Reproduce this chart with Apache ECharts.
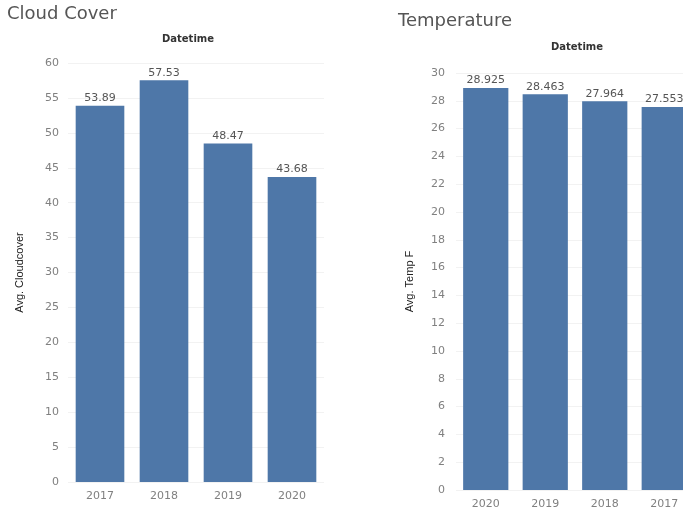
<!DOCTYPE html>
<html>
<head>
<meta charset="utf-8">
<style>
  html, body { margin: 0; padding: 0; background: #fff; overflow: hidden; }
  /* the right-hand panel runs past the window edge, so the canvas is wider than the view */
  #chart { width: 710px; height: 512px; }
</style>
<script src="https://cdn.jsdelivr.net/npm/echarts@6/dist/echarts.min.js"></script>
</head>
<body>
<div id="chart"></div>
<script>
// Average cloud cover by year
const cloudYears = ['2017', '2018', '2019', '2020'];
const cloudValues = [53.89, 57.53, 48.47, 43.68];
const cloudTicks = { min: 0, max: 60, interval: 5 };

// Average temperature by year (sorted descending)
const tempYears = ['2020', '2019', '2018', '2017'];
const tempValues = [28.925, 28.463, 27.964, 27.553];
const tempTicks = { min: 0, max: 30, interval: 2 };

const barColor = '#4e77a8';
const tickFont = 'DejaVu Sans, sans-serif';
const tickColor = '#808080';

function valueAxis(gridIndex, ticks, name, gap, margin) {
  return {
    type: 'value', gridIndex,
    min: ticks.min, max: ticks.max, interval: ticks.interval,
    name, nameLocation: 'middle', nameGap: gap, nameRotate: 90,
    nameTextStyle: { fontFamily: 'Liberation Sans Narrow, Liberation Sans, sans-serif', fontSize: 11, color: '#222' },
    axisLine: { show: false }, axisTick: { show: false },
    axisLabel: { fontFamily: tickFont, fontSize: 11, color: tickColor, margin },
    splitLine: { show: true, lineStyle: { color: '#f2f2f2', width: 1 } }
  };
}

function categoryAxis(gridIndex, data) {
  return {
    type: 'category', gridIndex, data,
    axisLine: { show: false }, axisTick: { show: false },
    axisLabel: { fontFamily: tickFont, fontSize: 11, color: tickColor, margin: 9 }
  };
}

function barSeries(idx, data, digits) {
  return {
    type: 'bar', xAxisIndex: idx, yAxisIndex: idx, data,
    barCategoryGap: '24%',
    itemStyle: { color: barColor },
    label: {
      show: true, position: 'top', distance: 2,
      fontFamily: tickFont, fontSize: 11, color: '#555',
      formatter: p => p.value.toFixed(digits)
    }
  };
}

const titleStyle = { fontFamily: 'DejaVu Sans, sans-serif', fontSize: 18, fontWeight: 'normal', color: '#555' };
const headerStyle = { fontFamily: tickFont, fontSize: 10, fontWeight: 'bold', color: '#333' };

const chart = echarts.init(document.getElementById('chart'), null, { renderer: 'canvas' });
chart.setOption({
  backgroundColor: '#fff',
  animation: false,
  title: [
    { text: 'Cloud Cover', left: 7, top: 5, padding: 0, textStyle: titleStyle },
    { text: 'Temperature', left: 398, top: 12, padding: 0, textStyle: titleStyle },
    { text: 'Datetime', left: 188, top: 34, padding: 0, textAlign: 'center', textStyle: headerStyle },
    { text: 'Datetime', left: 577, top: 42, padding: 0, textAlign: 'center', textStyle: headerStyle }
  ],
  grid: [
    { left: 68, top: 63, width: 256, height: 419 },
    { left: 456, top: 73, width: 238, height: 417 }
  ],
  xAxis: [categoryAxis(0, cloudYears), categoryAxis(1, tempYears)],
  yAxis: [
    valueAxis(0, cloudTicks, 'Avg. Cloudcover', 43, 9),
    valueAxis(1, tempTicks, 'Avg. Temp F', 41, 11)
  ],
  series: [barSeries(0, cloudValues, 2), barSeries(1, tempValues, 3)]
});
</script>
</body>
</html>
